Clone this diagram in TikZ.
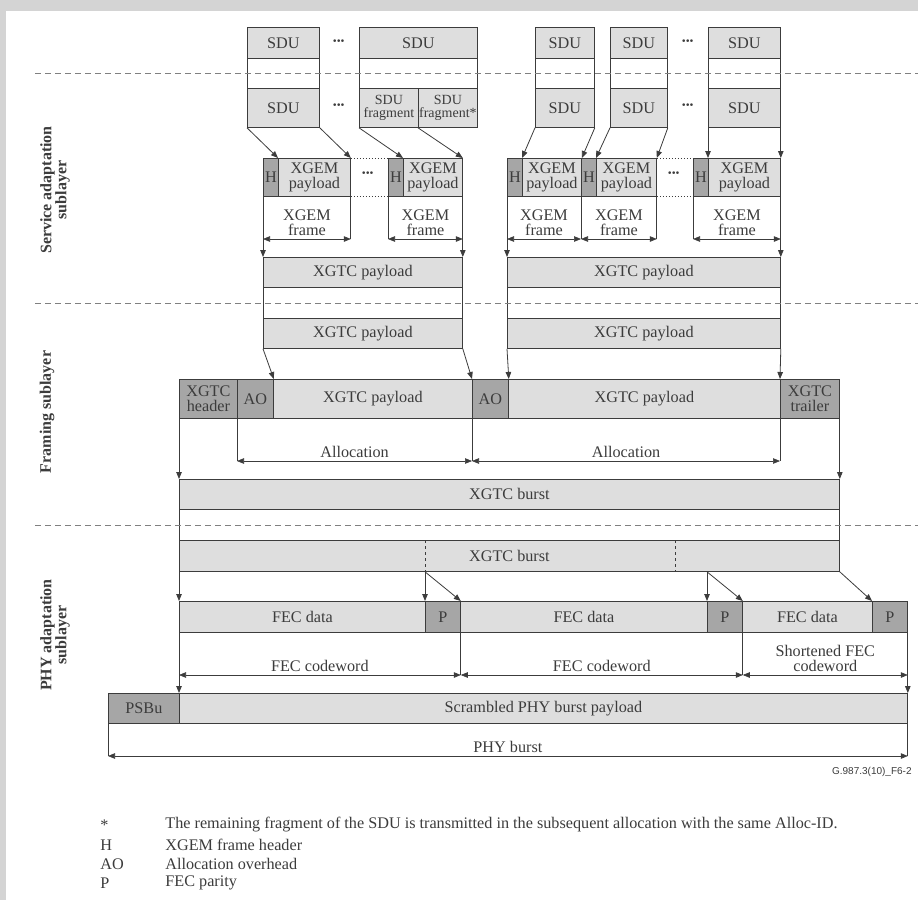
\documentclass[tikz,border=0pt]{standalone}
\usepackage{fontspec}
\setmainfont{Liberation Serif}
\newfontfamily\figsans{Liberation Sans}
\usetikzlibrary{arrows.meta, positioning, calc}
\definecolor{LineGrey}{HTML}{3C3C3C}
\definecolor{CellLite}{HTML}{DEDEDE}
\definecolor{CellDark}{HTML}{A6A6A6}
\definecolor{FrameGrey}{HTML}{D4D4D4}
\newcommand{\gapdots}{\textbf{\kern-0.5pt·\kern-1.5pt·\kern-1.5pt·}}

\begin{document}
\begin{tikzpicture}[x=1pt, y=-1pt, >={Triangle[length=7pt,width=5.5pt]},
  color=LineGrey, line width=0.8pt,
  font=\fontsize{16.2}{15}\selectfont,
  lite/.style={draw=LineGrey, fill=CellLite, anchor=north west,
               inner sep=0pt, align=center},
  dark/.style={lite, fill=CellDark},
  blank/.style={lite, fill=white},
  cell/.style 2 args={minimum width=#1, minimum height=#2},
  frag/.style={font=\fontsize{14}{13}\selectfont},
  dim/.style={<->, line width=0.6pt},
  lbl/.style={midway, above, align=center},
  sep/.style={dash pattern=on 6pt off 4pt, line width=0.7pt, gray},
  legend/.style={anchor=west, inner sep=0pt}]
  \useasboundingbox (0,0) rectangle (918,900);
  \fill[FrameGrey] (0,0) rectangle (918,900);
  \fill[white] (6,11) rectangle (918,900);

  % SDUs
  \node[lite, cell={72}{31}] (sduA) at (247,27) {SDU};
  \node[blank, cell={72}{30}] (gapA) at (247,58) {};
  \node[lite, cell={72}{39}] (sduAlo) at (247,88) {SDU};
  \node[lite, cell={118}{31}] (sduB) at (359,27) {SDU};
  \node[blank, cell={118}{30}] (gapB) at (359,58) {};
  \node[lite, frag, cell={59}{39}] (fragA) at (359,88) {SDU\\fragment};
  \node[lite, frag, cell={59}{39}] (fragB) at (418,88) {SDU\\fragment*};
  \node[lite, cell={59}{31}] (sduC) at (535,27) {SDU};
  \node[blank, cell={59}{30}] (gapC) at (535,58) {};
  \node[lite, cell={59}{39}] (sduClo) at (535,88) {SDU};
  \node[lite, cell={57}{31}] (sduD) at (610,27) {SDU};
  \node[blank, cell={57}{30}] (gapD) at (610,58) {};
  \node[lite, cell={57}{39}] (sduDlo) at (610,88) {SDU};
  \node[lite, cell={72}{31}] (sduE) at (708,27) {SDU};
  \node[blank, cell={72}{30}] (gapE) at (708,58) {};
  \node[lite, cell={72}{39}] (sduElo) at (708,88) {SDU};
  \node (dotsA) at (339,43) {\gapdots};
  \node (dotsB) at (339,107) {\gapdots};
  \node (dotsC) at (688,43) {\gapdots};
  \node (dotsD) at (688,107) {\gapdots};

  % XGEM frames
  \node[dark, cell={15}{38}] (hA) at (263,158) {H};
  \node[lite, cell={72}{38}] (plA) at (278,158) {XGEM\\payload};
  \node[dark, cell={15}{38}] (hB) at (388,158) {H};
  \node[lite, cell={59}{38}] (plB) at (403,158) {XGEM\\payload};
  \node[dark, cell={15}{38}] (hC) at (507,158) {H};
  \node[lite, cell={59}{38}] (plC) at (522,158) {XGEM\\payload};
  \node[dark, cell={15}{38}] (hD) at (581,158) {H};
  \node[lite, cell={60}{38}] (plD) at (596,158) {XGEM\\payload};
  \node[dark, cell={15}{38}] (hE) at (693,158) {H};
  \node[lite, cell={72}{38}] (plE) at (708,158) {XGEM\\payload};
  \node (dotsE) at (368,175) {\gapdots};
  \node (dotsF) at (674,175) {\gapdots};
  \draw[dotted, line width=1pt] (plA.north east) -- (hB.north west);
  \draw[dotted, line width=1pt] (plA.south east) -- (hB.south west);
  \draw[dotted, line width=1pt] (plD.north east) -- (hE.north west);
  \draw[dotted, line width=1pt] (plD.south east) -- (hE.south west);

  % XGTC payloads
  \node[lite, cell={199}{30}] (tpA) at (263,257) {XGTC payload};
  \node[blank, cell={199}{31}] (gapF) at (263,287) {};
  \node[lite, cell={199}{30}] (tpA2) at (263,318) {XGTC payload};
  \node[lite, cell={273}{30}] (tpB) at (507,257) {XGTC payload};
  \node[blank, cell={273}{31}] (gapG) at (507,287) {};
  \node[lite, cell={273}{30}] (tpB2) at (507,318) {XGTC payload};

  % framing
  \node[dark, cell={58}{39}] (hdr) at (179,379) {XGTC\\header};
  \node[dark, cell={36}{39}] (aoA) at (237,379) {AO};
  \node[lite, cell={199}{39}] (fpA) at (273,379) {XGTC payload};
  \node[dark, cell={36}{39}] (aoB) at (472,379) {AO};
  \node[lite, cell={272}{39}] (fpB) at (508,379) {XGTC payload};
  \node[dark, cell={59}{39}] (trl) at (780,379) {XGTC\\trailer};

  % bursts
  \node[lite, cell={660}{30}] (bstA) at (179,479) {XGTC burst};
  \node[blank, cell={660}{31}] (gapH) at (179,509) {};
  \node[lite, cell={660}{31}] (bstB) at (179,540) {XGTC burst};

  % FEC
  \node[lite, cell={246}{31}] (fdA) at (179,601) {FEC data};
  \node[dark, cell={35}{31}] (pA) at (425,601) {P};
  \node[lite, cell={247}{31}] (fdB) at (460,601) {FEC data};
  \node[dark, cell={35}{31}] (pB) at (707,601) {P};
  \node[lite, cell={130}{31}] (fdC) at (742,601) {FEC data};
  \node[dark, cell={35}{31}] (pC) at (872,601) {P};

  % PHY burst
  \node[dark, cell={71}{30}] (psbu) at (108,693) {PSBu};
  \node[lite, cell={728}{30}] (pay) at (179,693) {Scrambled PHY burst payload};

  \coordinate (gemdim) at (0,239);
  \coordinate (alldim) at (0,461);
  \coordinate (fecdim) at (0,675);
  \coordinate (phydim) at (0,756);

  % SDU -> XGEM
  \draw[->] (sduAlo.south west) -- (plA.north west);
  \draw[->] (sduAlo.south east) -- (plA.north east);
  \draw[->] (fragA.south west) -- (plB.north west);
  \draw[->] (fragB.south west) -- (plB.north east);
  \draw[->] (sduClo.south west) -- (plC.north west);
  \draw[->] (sduClo.south east) -- (plC.north east);
  \draw[->] (sduDlo.south west) -- (plD.north west);
  \draw[->] (sduDlo.south east) -- (plD.north east);
  \draw[->] (sduElo.south west) -- (plE.north west);
  \draw[->] (sduElo.south east) -- (plE.north east);

  % XGEM -> XGTC payload
  \draw[->] (hA.south west) -- (tpA.north west);
  \draw[->] (plB.south east) -- (tpA.north east);
  \draw[->] (hC.south west) -- (tpB.north west);
  \draw[->] (plE.south east) -- (tpB.north east);
  \draw (plA.south east) -- (plA.south east |- gemdim);
  \draw (hB.south west) -- (hB.south west |- gemdim);
  \draw (hD.south west) -- (hD.south west |- gemdim);
  \draw (plD.south east) -- (plD.south east |- gemdim);
  \draw (hE.south west) -- (hE.south west |- gemdim);
  \draw[dim] (hA.south west |- gemdim) -- (plA.south east |- gemdim) node[lbl] {XGEM\\frame};
  \draw[dim] (hB.south west |- gemdim) -- (plB.south east |- gemdim) node[lbl] {XGEM\\frame};
  \draw[dim] (hC.south west |- gemdim) -- (hD.south west |- gemdim) node[lbl] {XGEM\\frame};
  \draw[dim] (hD.south west |- gemdim) -- (plD.south east |- gemdim) node[lbl] {XGEM\\frame};
  \draw[dim] (hE.south west |- gemdim) -- (plE.south east |- gemdim) node[lbl] {XGEM\\frame};

  % XGTC payload -> framing
  \draw[->] (tpA2.south west) -- (aoA.north east);
  \draw[->] (tpA2.south east) -- (aoB.north west);
  \draw[->] (tpB2.south west) -- (aoB.north east);
  \draw[->] (tpB2.south east) -- (trl.north west);
  \draw (aoA.south west) -- (aoA.south west |- alldim);
  \draw (aoB.south west) -- (aoB.south west |- alldim);
  \draw (trl.south west) -- (trl.south west |- alldim);
  \draw[dim] (aoA.south west |- alldim) -- (aoB.south west |- alldim) node[lbl] {Allocation};
  \draw[dim] (aoB.south west |- alldim) -- (trl.south west |- alldim) node[lbl] {Allocation};

  % framing -> burst
  \draw[->] (hdr.south west) -- (bstA.north west);
  \draw[->] (trl.south east) -- (bstA.north east);

  % burst -> FEC
  \draw[dashed, line width=0.6pt] (pA.north west |- bstB.north) -- (pA.north west |- bstB.south);
  \draw[dashed, line width=0.6pt] (675,540) -- (675,571);
  \draw[->] (bstB.south west) -- (fdA.north west);
  \draw[->] (pA.north west |- bstB.south) -- (pA.north west);
  \draw[->] (pA.north west |- bstB.south) -- (pA.north east);
  \draw[->] (pB.north west |- bstB.south) -- (pB.north west);
  \draw[->] (pB.north west |- bstB.south) -- (pB.north east);
  \draw[->] (bstB.south east) -- (pC.north west);
  \draw (pA.south east) -- (pA.south east |- fecdim);
  \draw (pB.south east) -- (pB.south east |- fecdim);
  \draw[dim] (fdA.south west |- fecdim) -- (pA.south east |- fecdim) node[lbl] {FEC codeword};
  \draw[dim] (pA.south east |- fecdim) -- (pB.south east |- fecdim) node[lbl] {FEC codeword};
  \draw[dim] (pB.south east |- fecdim) -- (pC.south east |- fecdim) node[lbl] {Shortened FEC\\codeword};

  % FEC -> PHY
  \draw[->] (fdA.south west) -- (pay.north west);
  \draw[->] (pC.south east) -- (pay.north east);
  \draw (psbu.south west) -- (psbu.south west |- phydim);
  \draw (pay.south east) -- (pay.south east |- phydim);
  \draw[dim] (psbu.south west |- phydim) -- (pay.south east |- phydim) node[lbl] {PHY burst};
  \node[anchor=east, inner sep=0pt, font=\figsans\fontsize{10}{12}\selectfont] (figid) at (912,772) {G.987.3(10)\_F6-2};

  % sublayers
  \draw[sep] (35,73) -- (918,73);
  \draw[sep] (35,303) -- (918,303);
  \draw[sep] (35,525) -- (918,525);
  \node[rotate=90, align=center, font=\bfseries\fontsize{16}{15}\selectfont] (svc) at (55,190) {Service adaptation\\sublayer};
  \node[rotate=90, align=center, font=\bfseries\fontsize{16}{15}\selectfont] (frm) at (47,412) {Framing sublayer};
  \node[rotate=90, align=center, font=\bfseries\fontsize{16}{15}\selectfont] (phy) at (55,635) {PHY adaptation\\sublayer};

  % legend
  \node[legend] (keyS) at (100,825) {*};
  \node[legend] (txtS) at (165,825) {The remaining fragment of the SDU is transmitted in the subsequent allocation with the same Alloc-ID.};
  \node[legend] (keyH) at (100,845) {H};
  \node[legend] (txtH) at (165,845) {XGEM frame header};
  \node[legend] (keyAO) at (100,864) {AO};
  \node[legend] (txtAO) at (165,864) {Allocation overhead};
  \node[legend] (keyP) at (100,883) {P};
  \node[legend] (txtP) at (165,883) {FEC parity};
\end{tikzpicture}
\end{document}
